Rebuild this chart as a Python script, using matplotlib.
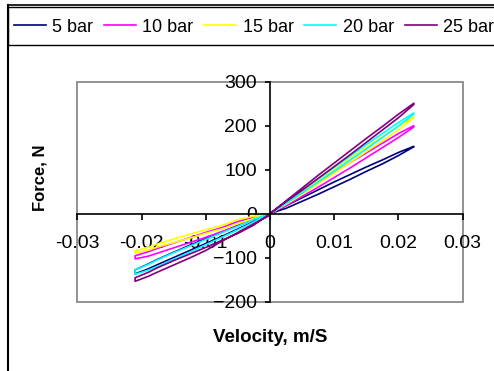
import matplotlib.pyplot as plt
from matplotlib.patches import Rectangle

plt.rcParams['font.family'] = ['Liberation Sans', 'DejaVu Sans']

# velocity sweep: out to +max and back, then out to -max and back (m/s)
vel_pos = [0, 0.0025, 0.005, 0.0075, 0.01, 0.0125, 0.015, 0.0175, 0.02, 0.0224]
vel_neg = [0, -0.0025, -0.005, -0.0075, -0.01, -0.0125, -0.015, -0.0175, -0.019, -0.021]
velocity = vel_pos + vel_pos[::-1] + vel_neg + vel_neg[::-1]

labels = ['5 bar', '10 bar', '15 bar', '20 bar', '25 bar']
colors = ['#000080', '#FF00FF', '#FFFF00', '#00FFFF', '#800080']

# damper force (N) along the sweep, one loop per pressure
force_5 = [0, 18, 36, 54, 72, 89, 106, 122, 139, 153,
           152, 132, 113, 96, 78, 61, 44, 28, 12, 0,
           0, -18, -35, -52, -68, -84, -100, -116, -126, -137,
           -128, -115, -104, -88, -72, -57, -42, -27, -12, 0]
force_10 = [0, 24, 47, 70, 93, 116, 138, 160, 182, 200,
            197, 173, 150, 127, 104, 82, 60, 39, 18, 0,
            0, -14, -28, -41, -54, -66, -78, -90, -97, -103,
            -96, -87, -79, -67, -55, -43, -32, -18, -8, 0]
force_15 = [0, 26, 51, 76, 101, 126, 151, 175, 199, 220,
            218, 190, 165, 141, 116, 92, 68, 44, 21, 0,
            0, -11, -23, -35, -45, -56, -66, -76, -83, -90,
            -85, -77, -69, -58, -47, -37, -27, -14, -6, 0]
force_20 = [0, 27, 53, 79, 105, 131, 157, 182, 207, 229,
            226, 199, 173, 147, 122, 97, 72, 47, 23, 0,
            0, -19, -37, -54, -71, -88, -104, -120, -129, -138,
            -128, -116, -105, -89, -74, -59, -44, -29, -13, 0]
force_25 = [0, 29, 58, 87, 115, 143, 171, 198, 226, 251,
            248, 218, 190, 162, 134, 107, 80, 53, 27, 0,
            -4, -23, -43, -63, -84, -101, -117, -133, -143, -154,
            -146, -134, -123, -107, -92, -77, -61, -45, -26, 0]
forces = [force_5, force_10, force_15, force_20, force_25]

x_ticks = [-0.03, -0.02, -0.01, 0, 0.01, 0.02, 0.03]
x_ticklabels = ['-0.03', '-0.02', '-0.01', '0', '0.01', '0.02', '0.03']
y_ticks = [-200, -100, 0, 100, 200, 300]

fig = plt.figure(figsize=(4.94, 3.71), dpi=100)
ax = fig.add_axes([0.1565, 0.1873, 0.780, 0.5925])

for f, c, lab in zip(forces, colors, labels):
    ax.plot(velocity, f, color=c, lw=1.2, label=lab)

ax.set_xlim(-0.03, 0.03)
ax.set_ylim(-200, 300)

# axes cross at the origin, grey box around the plot area
for side in ['top', 'right']:
    ax.spines[side].set_visible(False)
ax.spines['left'].set_position(('data', 0))
ax.spines['bottom'].set_position(('data', 0))
ax.spines['left'].set_linewidth(1.2)
ax.spines['bottom'].set_linewidth(1.2)
ax.add_patch(Rectangle((0, 0), 1, 1, transform=ax.transAxes, fill=False,
                       ec='#808080', lw=1.2, clip_on=False, zorder=0))

ax.set_xticks(x_ticks)
ax.set_xticklabels(x_ticklabels)
ax.set_yticks(y_ticks)
ax.tick_params(axis='x', direction='out', length=4, width=1.2, pad=11.5, labelsize=14)
ax.tick_params(axis='y', direction='out', length=3.5, width=1.2, pad=6, labelsize=14)

fig.text(270 / 494, 1 - 338 / 371, 'Velocity, m/S', ha='center', va='center',
         fontsize=13.5, fontweight='bold')
fig.text(40 / 494, 1 - 178 / 371, 'Force, N', ha='center', va='center',
         rotation=90, fontsize=12, fontweight='bold')

# outer chart border and legend box
fig.add_artist(plt.Line2D([7.5 / 494, 7.5 / 494], [0, 1 - 5 / 371],
                          transform=fig.transFigure, color='black', lw=1.5))
fig.add_artist(plt.Line2D([7.5 / 494, 1], [1 - 5 / 371, 1 - 5 / 371],
                          transform=fig.transFigure, color='black', lw=1.2))
fig.add_artist(Rectangle((8 / 494, 1 - 45 / 371), 1, 38 / 371,
                         transform=fig.transFigure, fill=False, ec='black', lw=1.0))

fig.legend(loc='center left', bbox_to_anchor=(14 / 494, 1 - 27 / 371), ncol=5,
           frameon=False, fontsize=13, handlelength=1.77, handletextpad=0.35,
           columnspacing=0.6, borderaxespad=0, borderpad=0)

fig.savefig('out.png', dpi=100)
